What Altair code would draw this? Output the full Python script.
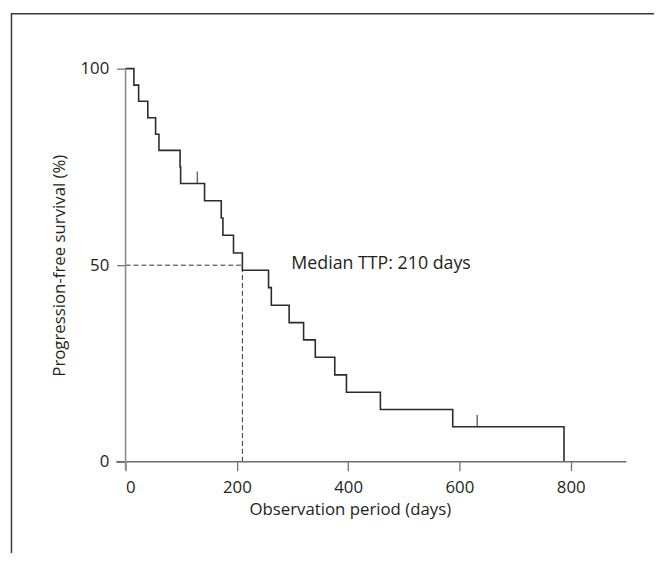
import altair as alt
import pandas as pd

# Kaplan-Meier step points (days, % progression-free)
times = [0, 15, 23.5, 40, 54, 60, 98, 99, 142, 172, 175, 194, 210, 257, 262,
         294, 320, 341, 376, 397, 458, 588, 788]
surv = [100, 95.8, 91.7, 87.5, 83.3, 79.2, 75.0, 70.8, 66.4, 62.0, 57.6, 53.1,
        48.7, 44.3, 39.8, 35.4, 31.0, 26.6, 22.1, 17.7, 13.3, 8.9, 0]
censor_times = [129, 632]
censor_surv = [70.8, 8.9]
median_days = 210
median_level = 50
x_ticks = [0, 200, 400, 600, 800]
y_ticks = [0, 50, 100]
x_domain = [0, 900]
y_domain = [0, 100]
x_axis_extent = [-17, 900]
y_axis_extent = [-2, 100]
label_text = "Median TTP: 210 days"
label_pos = [298, 50.4]
x_title = "Observation period (days)"
y_title = "Progression-free survival (%)"

FONT = "Open Sans"
TXT = "#231f20"

km = pd.DataFrame({"t": times, "s": surv})
cens = pd.DataFrame({"t": censor_times, "s": censor_surv})
hdash = pd.DataFrame({"t": [0], "t2": [median_days], "s": [median_level]})
vdash = pd.DataFrame({"t": [median_days], "s": [0], "s2": [median_level]})
xaxis = pd.DataFrame({"t": [x_axis_extent[0]], "t2": [x_axis_extent[1]], "s": [0]})
yaxis = pd.DataFrame({"t": [0], "s": [y_axis_extent[0]], "s2": [y_axis_extent[1]]})
lab = pd.DataFrame({"t": [label_pos[0]], "s": [label_pos[1]], "text": [label_text]})

xs = alt.Scale(domain=x_domain, nice=False, zero=False)
ys = alt.Scale(domain=y_domain, nice=False, zero=False)

common_axis = dict(domain=False, grid=False, tickSize=9, tickColor="#707070",
                   tickWidth=1.3, labelFont=FONT, titleFont=FONT,
                   labelFontSize=17, titleFontSize=17, labelColor=TXT,
                   titleColor=TXT, titleFontWeight="normal")
x_axis = alt.Axis(values=x_ticks, title=x_title, labelPadding=9, titlePadding=6,
                  titleX=227, **common_axis)
y_axis = alt.Axis(values=y_ticks, title=y_title, labelPadding=8, titlePadding=12,
                  **common_axis)

X = alt.X("t:Q", scale=xs, axis=x_axis, title=x_title)
Y = alt.Y("s:Q", scale=ys, axis=y_axis, title=y_title)

line = alt.Chart(km).mark_line(interpolate="step-after", color="#2b2b2b",
                               strokeWidth=1.6).encode(x=X, y=Y)

frame = alt.Chart(pd.DataFrame({"a": [0]})).mark_rect(
    fill="transparent", stroke="#3a3a3a", strokeWidth=1.5
).encode(x=alt.value(-115.5), x2=alt.value(700), y=alt.value(-55.5), y2=alt.value(700))

ticks = alt.Chart(cens).mark_tick(orient="vertical", size=12, thickness=1.5,
                                   color="#2b2b2b", yOffset=-6).encode(x=X, y=Y)

hd = alt.Chart(hdash).mark_rule(strokeDash=[5, 3], color="#333333", strokeWidth=1).encode(
    x=X, x2="t2:Q", y=Y)
vd = alt.Chart(vdash).mark_rule(strokeDash=[5, 3], color="#333333", strokeWidth=1).encode(
    x=X, y=Y, y2="s2:Q")

xa = alt.Chart(xaxis).mark_rule(color="#6d6d6d", strokeWidth=1.3).encode(
    x=X, x2="t2:Q", y=Y)
ya = alt.Chart(yaxis).mark_rule(color="#8c8c8c", strokeWidth=1.6).encode(
    x=X, y=Y, y2="s2:Q")

txt = alt.Chart(lab).mark_text(align="left", baseline="middle", font=FONT,
                               fontSize=18, color=TXT).encode(x=X, y=Y, text="text:N")

chart = alt.layer(line, frame, hd, vd, xa, ya, ticks, txt).properties(
    width=507, height=398,
    autosize=alt.AutoSizeParams(type="none"),
    padding={"left": 119, "top": 58, "right": 28, "bottom": 89},
).configure_view(stroke="transparent")

chart.save("out.html", embed_options={"renderer": "svg", "actions": False})
